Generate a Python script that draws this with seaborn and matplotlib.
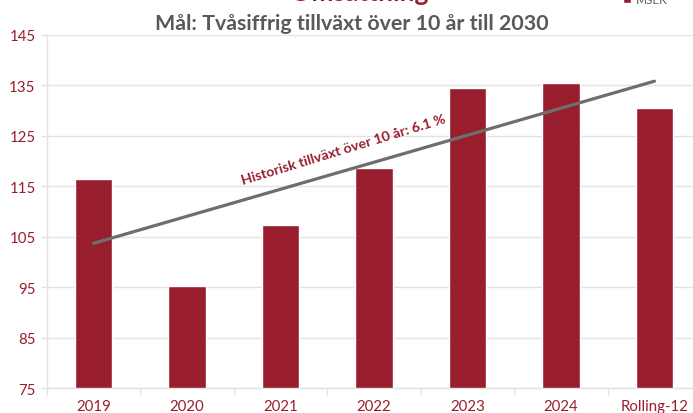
import matplotlib
matplotlib.use("Agg")
import matplotlib.pyplot as plt
import seaborn as sns
import pandas as pd
from matplotlib.patches import Patch

categories = ["2019", "2020", "2021", "2022", "2023", "2024", "Rolling-12"]
values = [116.4, 95.3, 107.3, 118.6, 134.4, 135.5, 130.4]
trend_x = [0, 6]
trend_y = [103.7, 135.8]
y_ticks = [75, 85, 95, 105, 115, 125, 135, 145]

title_main = "Omsättning"
title_sub = "Mål: Tvåsiffrig tillväxt över 10 år till 2030"
trend_label = "Historisk tillväxt över 10 år: 6.1 %"
legend_label = "MSEK"

RED = "#981E2D"
GRAY = "#6E6E6E"
GRID = "#E3E3E3"

sns.set_theme(style="white")
plt.rcParams["font.family"] = ["Lato", "DejaVu Sans"]

fig = plt.figure(figsize=(6.93, 4.14), dpi=100)
ax = fig.add_axes([46.7 / 693, 24.7 / 414, 654.5 / 693, 353.6 / 414])

df = pd.DataFrame({"cat": categories, "val": values})
sns.barplot(data=df, x="cat", y="val", color=RED, saturation=1, width=0.4, ax=ax)
sns.lineplot(x=trend_x, y=trend_y, color=GRAY, linewidth=2.3, ax=ax)

ax.set_ylim(75, 145)
ax.set_xlim(-0.5, 6.5)
ax.set_yticks(y_ticks)
ax.set_xlabel("")
ax.set_ylabel("")
ax.grid(axis="y", color=GRID, linewidth=1)
ax.set_axisbelow(True)
for s in ["top", "right"]:
    ax.spines[s].set_visible(False)
for s in ["left", "bottom"]:
    ax.spines[s].set_color(GRID)
    ax.spines[s].set_linewidth(1)

ax.tick_params(axis="y", colors=GRID, labelcolor=RED, labelsize=10.8, length=4, width=1, pad=4, left=True)
ax.tick_params(axis="x", which="major", length=0, labelcolor=RED, labelsize=10.8, pad=8)
ax.set_xticks([i - 0.5 for i in range(len(categories) + 1)], minor=True)
ax.tick_params(axis="x", which="minor", length=5, color=GRID, width=1, bottom=True)

ax.text(2.68, 122.4, trend_label, rotation=17, color=RED, fontsize=10.2,
        fontweight="bold", ha="center", va="center", rotation_mode="anchor")

fig.text(0.518, 0.997, title_main, color=RED, fontsize=19, fontweight="bold",
         ha="center", va="baseline")
fig.text(0.507, 0.942, title_sub, color="#595959", fontsize=15.4, fontweight="bold",
         ha="center", va="center")

fig.legend(handles=[Patch(facecolor=RED)], labels=[legend_label], loc="center left",
           bbox_to_anchor=(612 / 693, 1.0), frameon=False, fontsize=8.5,
           handlelength=0.7, handleheight=0.7, handletextpad=0.4, labelcolor="#595959")

fig.savefig("out.png", dpi=100)
